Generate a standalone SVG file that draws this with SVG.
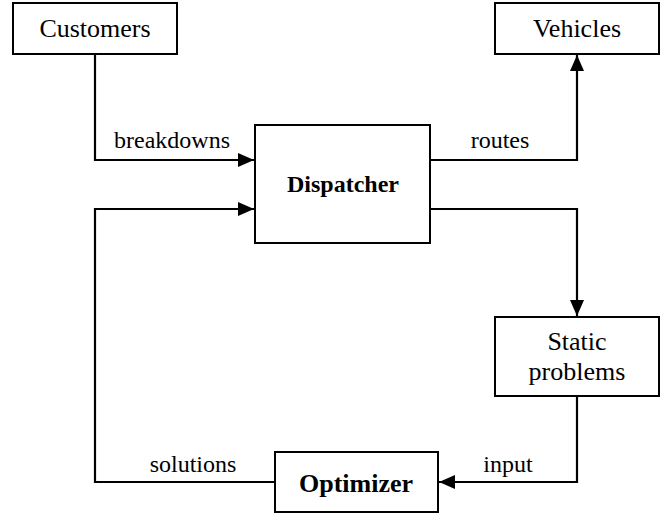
<svg xmlns="http://www.w3.org/2000/svg" width="665" height="514" viewBox="0 0 665 514">
  <style>
    .box { fill: #fff; stroke: #000; stroke-width: 2; }
    .wire { fill: none; stroke: #000; stroke-width: 2.2; }
  </style>
  <defs>
    <marker id="arrow" markerUnits="userSpaceOnUse" markerWidth="16" markerHeight="16" refX="16" refY="8" orient="auto">
      <path d="M0,1 L16,8 L0,15 Z" fill="#000"/>
    </marker>
  </defs>

  <rect width="665" height="514" fill="#fff"/>

  <g id="connectors">
    <path class="wire" d="M95,54 V160 H254" marker-end="url(#arrow)"/>
    <path class="wire" d="M430,160 H577 V55" marker-end="url(#arrow)"/>
    <path class="wire" d="M430,209 H577 V316" marker-end="url(#arrow)"/>
    <path class="wire" d="M577,396 V482 H439" marker-end="url(#arrow)"/>
    <path class="wire" d="M275,482 H95 V209 H254" marker-end="url(#arrow)"/>
    <text x="172" y="148" font-family="Liberation Serif" font-size="24" text-anchor="middle">breakdowns</text>
    <text x="500" y="148" font-family="Liberation Serif" font-size="24" text-anchor="middle">routes</text>
    <text x="193" y="472" font-family="Liberation Serif" font-size="24" text-anchor="middle">solutions</text>
    <text x="508" y="472" font-family="Liberation Serif" font-size="24" text-anchor="middle">input</text>
  </g>

  <g id="customers">
    <rect class="box" x="13" y="3" width="164" height="51"/>
    <text x="95" y="37" font-family="Liberation Serif" font-size="26" text-anchor="middle">Customers</text>
  </g>

  <g id="vehicles">
    <rect class="box" x="495" y="3" width="164" height="51"/>
    <text x="577" y="37" font-family="Liberation Serif" font-size="26" text-anchor="middle">Vehicles</text>
  </g>

  <g id="dispatcher">
    <rect class="box" x="255" y="125" width="175" height="118"/>
    <text x="343" y="192" font-family="Liberation Serif" font-size="24" font-weight="bold" text-anchor="middle">Dispatcher</text>
  </g>

  <g id="static-problems">
    <rect class="box" x="495" y="317" width="164" height="79"/>
    <text x="577" y="350" font-family="Liberation Serif" font-size="26" text-anchor="middle">Static</text>
    <text x="577" y="380" font-family="Liberation Serif" font-size="26" text-anchor="middle">problems</text>
  </g>

  <g id="optimizer">
    <rect class="box" x="275" y="452" width="163" height="60"/>
    <text x="356" y="492" font-family="Liberation Serif" font-size="26" font-weight="bold" text-anchor="middle">Optimizer</text>
  </g>
</svg>
